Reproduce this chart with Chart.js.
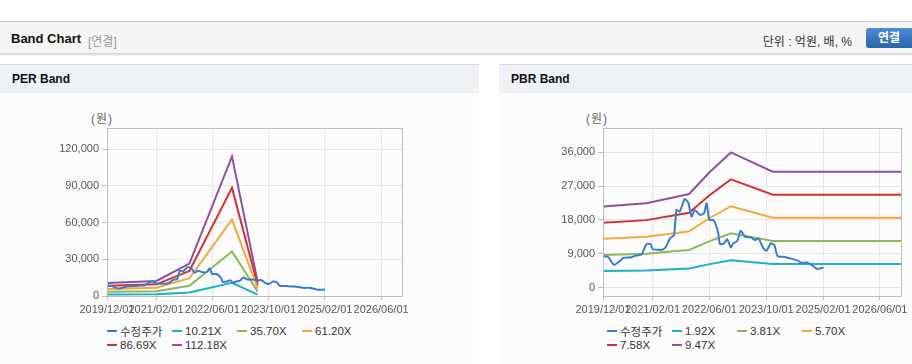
<!DOCTYPE html>
<html>
<head>
<meta charset="utf-8">
<script src="https://cdn.jsdelivr.net/npm/chart.js@4"></script>
<style>
  body { margin: 0; background: #fff; font-family: Arial, "Liberation Sans", "Noto Sans CJK KR", sans-serif; }
  #page { position: relative; width: 912px; height: 364px; overflow: hidden; }
  .topbar { position: absolute; left: 0; top: 21px; width: 912px; height: 31px; background: #f5f5f5;
            border-top: 1px solid #c8c8c8; box-shadow: 0 2px 2px #d4d4d4; }
  .title { position: absolute; left: 11px; top: 9px; font-size: 13px; font-weight: bold; color: #111; }
  .sub { position: absolute; left: 88px; top: 10px; font-size: 12px; color: #999; }
  .unit { position: absolute; right: 60px; top: 10px; font-size: 12px; color: #333; }
  .btn { position: absolute; left: 866px; top: 6px; width: 52px; height: 20px; border-radius: 3px;
         background: linear-gradient(#4d8bd2, #2b64aa); color: #fff; font-weight: bold; font-size: 12px;
         line-height: 20px; text-indent: 12px; }
  .panel { position: absolute; top: 64px; height: 300px; background: #fcfcfd; border-top: 1px solid #dcdcdc; }
  .phead { height: 28px; background: #eef2f7; font-size: 12px; font-weight: bold; color: #111;
           line-height: 28px; padding-left: 12px; }
  .unitlbl { position: absolute; top: 44px; font-size: 12px; color: #666; letter-spacing: 1px; }
  .cbox { position: absolute; top: 28px; height: 230px; }
  .legend { position: absolute; top: 259px; font-size: 11.5px; color: #333; display: grid;
            grid-template-columns: repeat(4, 65px); row-gap: 1px; }
  .legend span.item { display: flex; align-items: center; height: 13px; white-space: nowrap; }
  .legend i { display: inline-block; width: 10px; height: 2px; margin-right: 3px; }
</style>
</head>
<body>
<div id="page">
  <div class="topbar">
    <span class="title">Band Chart</span><span class="sub">[연결]</span>
    <span class="unit">단위 : 억원, 배, %</span>
    <div class="btn">연결</div>
  </div>

  <div class="panel" style="left:0; width:479px;">
    <div class="phead">PER Band</div>
    <span class="unitlbl" style="left:91px;">(원)</span>
    <div class="cbox" style="left:0; width:479px;"><canvas id="perChart"></canvas></div>
    <div class="legend" id="perLegend" style="left:107px;"></div>
  </div>

  <div class="panel" style="left:499px; width:413px;">
    <div class="phead">PBR Band</div>
    <span class="unitlbl" style="left:87px;">(원)</span>
    <div class="cbox" style="left:0; width:413px;"><canvas id="pbrChart"></canvas></div>
    <div class="legend" id="pbrLegend" style="left:108px;"></div>
  </div>
</div>

<script>
// x values are months counted from 2019/12
const xTickPos = [1.8, 14, 28, 42, 56, 70];
const xTickLabels = ['2019/12/01', '2021/02/01', '2022/06/01', '2023/10/01', '2025/02/01', '2026/06/01'];

// adjusted share price (수정주가)
const priceX = [1.8, 3.0, 4.5, 5.9, 6.9, 8.8, 10.0, 11.3, 12.5, 13.5, 14.1, 16.6, 17.3, 18.3, 19.3,
  19.9, 20.7, 21.9, 22.8, 23.6, 24.4, 25.7, 26.7, 27.3, 28.0, 29.0, 29.6, 30.2, 30.6, 31.6,
  32.4, 33.3, 33.9, 34.9, 35.7, 36.8, 38.2, 39.3, 40.1, 41.3, 42.1, 43.1, 44.0, 44.8, 46.2,
  47.9, 49.5, 50.8, 52.0, 53.3, 54.3, 55.3, 56.1];
const priceY = [8370, 8190, 6050, 7030, 7920, 8100, 8560, 8830, 11580, 11580, 10160, 10160, 10860, 13100, 14000,
  20680, 20220, 23540, 22630, 18890, 20680, 19340, 19800, 22470, 18000, 18000, 16670, 14450, 11580, 11770,
  12840, 10700, 11770, 12470, 15140, 13540, 13370, 12650, 13100, 10430, 9790, 11770, 11320, 8370, 8190,
  7760, 7300, 6580, 6690, 5970, 5080, 5080, 5350];

// PER band
const perX = [1.8, 14.1, 22.3, 32.9, 39.3];
const perLabels = ['10.21X', '35.70X', '61.20X', '86.69X', '112.18X'];
const per1 = [1300, 1500, 2900, 10800, 1100];
const per2 = [3400, 3900, 8400, 36300, 3600];
const per3 = [5800, 6700, 14500, 62300, 6200];
const per4 = [8300, 9500, 20500, 88300, 8700];
const per5 = [10700, 12300, 26500, 114000, 11300];
const perYTicks = [0, 30000, 60000, 90000, 120000];

// PBR band
const pbrX = [1.8, 12.5, 19.1, 23.0, 28.1, 33.3, 43.6, 75.2];
const pbrLabels = ['1.92X', '3.81X', '5.70X', '7.58X', '9.47X'];
const pbr1 = [4380, 4550, 4860, 5050, 6240, 7300, 6260, 6260];
const pbr2 = [8690, 9030, 9640, 10020, 12380, 14480, 12420, 12420];
const pbr3 = [13000, 13510, 14420, 14990, 18530, 21660, 18580, 18580];
const pbr4 = [17280, 17960, 19180, 19940, 24640, 28800, 24710, 24710];
const pbr5 = [21590, 22440, 23960, 24910, 30780, 35990, 30870, 30870];
const pbrYTicks = [0, 9000, 18000, 27000, 36000];

const colors = ['#3b7bce', '#1cb0c9', '#8db75a', '#f3a83e', '#d2332f', '#90509e'];
const FONT = 'Arial, "Liberation Sans", "Noto Sans CJK KR", sans-serif';

function pts(xs, ys) {
    return xs.map((x, i) => ({ x: x, y: ys[i] }));
}

// draw the grey box round the plot area
const plotBorder = {
    id: 'plotBorder',
    afterDraw(chart) {
        const a = chart.chartArea;
        const ctx = chart.ctx;
        ctx.save();
        ctx.strokeStyle = '#bdbdbd';
        ctx.lineWidth = 1;
        ctx.strokeRect(Math.round(a.left) + 0.5, Math.round(a.top) + 0.5,
            Math.round(a.right - a.left), Math.round(a.bottom - a.top));
        ctx.restore();
    }
};

function makeChart(id, legendId, bandX, bandLabels, bands, yTicks, yMin, yMax, pad, yWidth) {
    const datasets = [{
        label: '수정주가',
        data: pts(priceX, priceY),
        borderColor: colors[0],
        tension: 0.2
    }];
    bands.forEach((b, i) => {
        datasets.push({
            label: bandLabels[i],
            data: pts(bandX, b),
            borderColor: colors[i + 1],
            tension: 0
        });
    });
    datasets.forEach(d => { d.borderWidth = 2; d.pointRadius = 0; d.fill = false; });

    const chart = new Chart(document.getElementById(id), {
        type: 'line',
        data: { datasets: datasets },
        options: {
            responsive: true,
            maintainAspectRatio: false,
            animation: false,
            layout: { padding: pad },
            plugins: { legend: { display: false }, tooltip: { enabled: false } },
            scales: {
                x: {
                    type: 'linear',
                    min: 1.8,
                    max: 75.2,
                    afterBuildTicks: s => { s.ticks = xTickPos.map(v => ({ value: v })); },
                    afterFit: s => { s.height = 27; },
                    ticks: {
                        autoSkip: false,
                        maxRotation: 0,
                        padding: 3,
                        color: '#555',
                        font: { family: FONT, size: 11 },
                        callback: (v, i) => xTickLabels[i]
                    },
                    grid: { color: '#e6e6e6', tickLength: 4, tickColor: '#bdbdbd' },
                    border: { color: '#bdbdbd' }
                },
                y: {
                    min: yMin,
                    max: yMax,
                    afterBuildTicks: s => { s.ticks = yTicks.map(v => ({ value: v })); },
                    afterFit: s => { s.width = yWidth; },
                    ticks: {
                        padding: 3,
                        color: '#555',
                        font: { family: FONT, size: 11 },
                        callback: v => v.toLocaleString('en-US')
                    },
                    grid: { color: '#e6e6e6', tickLength: 5, tickColor: '#bdbdbd' },
                    border: { color: '#bdbdbd' }
                }
            }
        },
        plugins: [plotBorder]
    });

    // legend laid out in fixed-width columns like the original
    const box = document.getElementById(legendId);
    chart.data.datasets.forEach(d => {
        const item = document.createElement('span');
        item.className = 'item';
        const sw = document.createElement('i');
        sw.style.background = d.borderColor;
        item.appendChild(sw);
        item.appendChild(document.createTextNode(d.label));
        box.appendChild(item);
    });
    return chart;
}

makeChart('perChart', 'perLegend', perX, perLabels, [per1, per2, per3, per4, per5],
    perYTicks, 0, 137200, { top: 35, right: 77, bottom: 0, left: 0 }, 107);
makeChart('pbrChart', 'pbrLegend', pbrX, pbrLabels, [pbr1, pbr2, pbr3, pbr4, pbr5],
    pbrYTicks, -2250, 42500, { top: 35, right: 11, bottom: 0, left: 0 }, 104);
</script>
</body>
</html>
